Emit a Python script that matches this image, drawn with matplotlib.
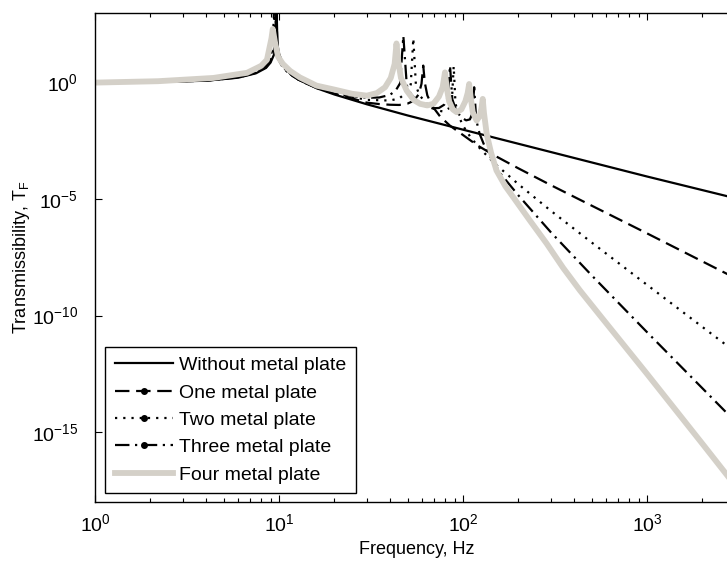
import numpy as np
import matplotlib
matplotlib.use("Agg")
import matplotlib.pyplot as plt
from matplotlib.lines import Line2D

plt.rcParams['font.family'] = ['Liberation Sans', 'DejaVu Sans']
plt.rcParams['mathtext.default'] = 'regular'

# data: frequency (Hz) and log10 of transmissibility
f_none = [1, 2, 4, 6, 7.5, 8.5, 9.0, 9.4, 9.6, 9.7, 9.8, 10.0, 10.5, 11.5, 13, 16, 20, 30, 50, 100, 1000, 3162]
e_none = [0, 0.02, 0.08, 0.21, 0.40, 0.63, 0.86, 1.21, 1.69, 3.3, 1.68, 1.2, 0.77, 0.39, 0.10, -0.24,
          -0.51, -0.93, -1.41, -2.02, -4.03, -5.0]

f_one = [1, 2, 4, 6, 7.5, 8.5, 9.0, 9.35, 9.55, 9.65, 9.8, 10.0, 10.5, 11.5, 13, 16, 20, 25, 30, 35, 40,
         45, 50, 54, 57.5, 59.5, 60.8, 62, 64, 68, 75, 85, 100, 120, 150, 200, 300, 500, 1000, 3162]
e_one = [0, 0.02, 0.08, 0.22, 0.42, 0.66, 0.92, 1.3, 1.9, 3.1, 1.75, 1.25, 0.78, 0.38, 0.08, -0.23, -0.47,
         -0.68, -0.86, -0.92, -0.95, -0.96, -0.9, -0.78, -0.5, -0.05, 0.73, 0.0, -0.55, -1.0, -1.45, -1.85,
         -2.25, -2.7, -3.15, -3.68, -4.4, -5.28, -6.47, -8.47]

f_two = [1, 2, 4, 6, 7.5, 8.5, 9.0, 9.3, 9.45, 9.55, 9.7, 10, 10.5, 11.5, 13, 16, 20, 30, 40, 45, 50, 52,
         53.7, 55.5, 58, 65, 72, 78, 84, 87, 89, 91, 95, 100, 110, 125, 150, 200, 300, 500, 1000, 3162]
e_two = [0, 0.02, 0.09, 0.23, 0.43, 0.71, 1.0, 1.38, 1.98, 3.2, 1.8, 0.98, 0.67, 0.36, 0.09, -0.21, -0.45,
         -0.74, -0.77, -0.68, -0.39, -0.08, 1.9, -0.14, -0.54, -1.0, -1.19, -1.24, -1.1, -0.79, 0.7, -0.89,
         -1.46, -1.85, -2.35, -2.87, -3.5, -4.36, -5.5, -6.86, -8.68, -11.68]

f_three = [1, 2, 4, 6, 7.5, 8.5, 9.0, 9.25, 9.4, 9.55, 9.8, 10.5, 11.5, 13, 16, 20, 25, 30, 35, 40, 43,
           45.5, 47.4, 49.5, 52, 56, 62, 68, 74, 79, 82.5, 85, 87.5, 92, 98, 104, 109, 112.5, 115, 118,
           123, 130, 140, 160, 200, 300, 500, 1000, 3162]
e_three = [0, 0.02, 0.09, 0.24, 0.46, 0.76, 1.1, 1.52, 3.2, 1.52, 1.08, 0.64, 0.34, 0.09, -0.2, -0.42,
           -0.58, -0.65, -0.64, -0.53, -0.35, -0.03, 2.0, -0.12, -0.48, -0.77, -1.0, -1.1, -1.09, -0.95,
           -0.64, 0.73, -0.72, -1.21, -1.5, -1.62, -1.58, -1.32, -0.2, -1.6, -2.19, -2.66, -3.15, -3.91,
           -4.84, -6.42, -8.27, -10.71, -14.71]

f_four = [1, 2.2, 4.4, 6.7, 8.0, 8.6, 9.1, 9.25, 9.5, 9.9, 10.5, 11.5, 13, 16, 20, 25, 30, 34, 37.7,
          40.5, 42.5, 43.5, 44.5, 46, 49.4, 54, 58.4, 64, 69, 74, 77.5, 79.8, 81.5, 84, 88, 92.4, 98, 103,
          106, 108, 110, 113, 118.6, 123, 126, 128, 130, 134.5, 142, 152, 170, 187.6, 230, 285, 350, 432,
          556, 1000, 2000, 3162]
e_four = [0.0, 0.06, 0.2, 0.42, 0.72, 0.98, 1.9, 2.3, 1.75, 1.1, 0.8, 0.5, 0.22, -0.13, -0.3, -0.48,
          -0.56, -0.45, -0.2, 0.2, 0.8, 1.68, 0.9, 0.2, -0.34, -0.75, -0.91, -0.98, -0.91, -0.6, -0.2,
          0.44, -0.2, -0.8, -1.15, -1.27, -1.15, -0.8, -0.45, -0.06, -0.6, -1.27, -1.63, -1.45, -1.1,
          -0.7, -1.3, -2.2, -3.0, -3.77, -4.45, -4.92, -5.9, -6.91, -7.95, -8.92, -10.0, -12.5, -15.5,
          -17.5]

labels = ['Without metal plate', 'One metal plate', 'Two metal plate',
          'Three metal plate', 'Four metal plate']

gray = '#D4D0C8'
lw = 1.6
dash = (6.5, 3.0)
dot = (1, 2.7)
dashdot = (6.5, 2.5, 1, 2.5)

fig = plt.figure(figsize=(7.27, 5.64), dpi=100)
ax = fig.add_axes([95/727, 1-502/564, 644/727, (502-12.7)/564])

ax.loglog(f_none, 10**np.array(e_none), color='k', lw=lw)
ax.loglog(f_one, 10**np.array(e_one), color='k', lw=lw, dashes=dash)
ax.loglog(f_two, 10**np.array(e_two), color='k', lw=lw, dashes=dot)
ax.loglog(f_three, 10**np.array(e_three), color='k', lw=lw, dashes=dashdot)
ax.loglog(f_four, 10**np.array(e_four), color=gray, lw=4.2)

ax.set_xlim(1, 10**3.5)
ax.set_ylim(1e-18, 1e3)
ax.set_yticks([1e-15, 1e-10, 1e-5, 1e0])
ax.yaxis.set_minor_locator(matplotlib.ticker.NullLocator())
ax.tick_params(which='both', direction='in', top=True, right=False, labelsize=14, width=0.8)
ax.tick_params(which='major', length=5)
ax.tick_params(which='minor', length=3)
ax.tick_params(axis='y', pad=12)
ax.tick_params(axis='x', pad=8)
for s in ax.spines.values():
    s.set_linewidth(1.0)

ax.set_xlabel('Frequency, Hz', fontsize=13, labelpad=4)
ax.set_ylabel('Transmissibility, T$_F$', fontsize=13, labelpad=0)

handles = [
    Line2D([], [], color='k', lw=lw),
    Line2D([], [], color='k', lw=lw, dashes=dash, marker='.', markersize=8),
    Line2D([], [], color='k', lw=lw, dashes=dot, marker='.', markersize=8),
    Line2D([], [], color='k', lw=lw, dashes=dashdot, marker='.', markersize=8),
    Line2D([], [], color=gray, lw=4.2),
]
leg = ax.legend(handles, labels, loc='lower left', bbox_to_anchor=(0.0155, 0.0178),
                borderaxespad=0, fontsize=14, fancybox=False, framealpha=1,
                handlelength=3.0, handletextpad=0.3, labelspacing=0.5, borderpad=0.5)
leg.get_frame().set_edgecolor('k')
leg.get_frame().set_linewidth(1.0)

fig.savefig('out.png', dpi=100)
